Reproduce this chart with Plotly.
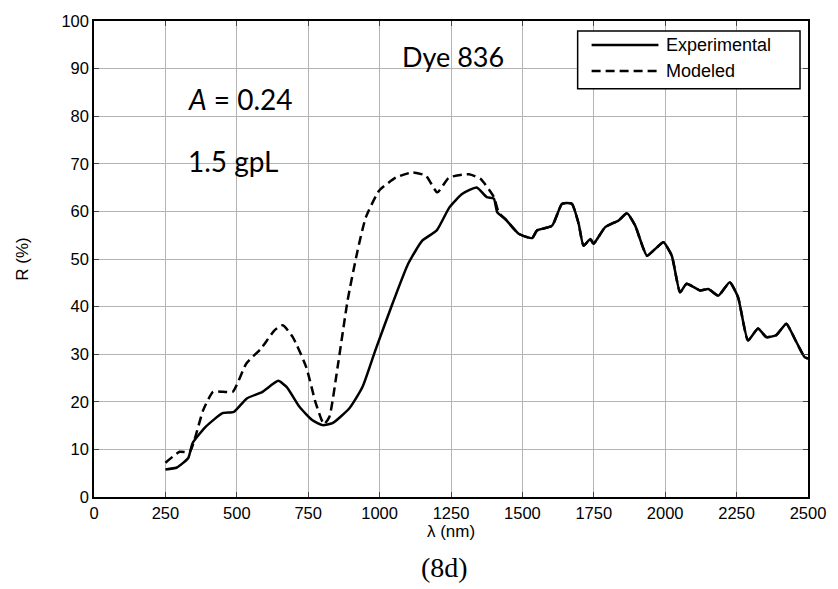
import plotly.graph_objects as go

exp_wl = [250, 290, 330, 345, 390, 450, 490, 535, 590, 645, 675, 720, 765, 800, 835,
          895, 940, 985, 1045, 1100, 1150, 1200, 1245, 1290, 1340, 1375, 1400, 1412,
          1440, 1487, 1534, 1551, 1604, 1639, 1673, 1697, 1714, 1738, 1749, 1790, 1837,
          1866, 1895, 1936, 1965, 1994, 2023, 2052, 2075, 2122, 2151, 2186, 2226, 2255,
          2290, 2325, 2354, 2389, 2424, 2453, 2488, 2500]
exp_r = [5.8, 6.2, 8.2, 11.3, 14.7, 17.6, 17.9, 20.7, 22.1, 24.4, 23.1, 18.9, 16.1, 15.1, 15.5,
         18.7, 23.1, 30.8, 40.6, 49.0, 53.9, 56.0, 60.9, 63.7, 65.0, 63.0, 62.7, 59.8,
         58.4, 55.3, 54.4, 56.0, 57.0, 61.6, 61.6, 57.4, 52.8, 54.2, 53.2, 56.7, 58.1,
         59.6, 57.0, 50.7, 52.1, 53.5, 50.7, 43.0, 44.8, 43.4, 43.7, 42.3, 45.1, 42.0,
         32.9, 35.4, 33.6, 34.0, 36.4, 33.3, 29.4, 29.1]

mod_wl = [250, 300, 335, 382, 417, 452, 486, 533, 585, 632, 661, 696, 743, 777, 805, 824,
          853, 888, 923, 952, 999, 1057, 1115, 1162, 1202, 1243, 1313, 1354, 1400, 1417,
          1440, 1487, 1534, 1551, 1604, 1639, 1673, 1697, 1714, 1738, 1749, 1790, 1837,
          1866, 1895, 1936, 1965, 1994, 2023, 2052, 2075, 2122, 2151, 2186, 2226, 2255,
          2290, 2325, 2354, 2389, 2424, 2453, 2488, 2500]
mod_r = [7.2, 9.5, 9.5, 18.2, 22.1, 22.1, 22.1, 28.0, 31.2, 35.0, 36.1, 33.6, 27.3, 19.6, 15.3, 16.8,
         27.3, 41.3, 51.8, 58.8, 64.4, 67.1, 68.2, 67.5, 64.0, 67.1, 67.8, 66.8, 63.0, 59.8,
         58.4, 55.3, 54.4, 56.0, 57.0, 61.6, 61.6, 57.4, 52.8, 54.2, 53.2, 56.7, 58.1,
         59.6, 57.0, 50.7, 52.1, 53.5, 50.7, 43.0, 44.8, 43.4, 43.7, 42.3, 45.1, 42.0,
         32.9, 35.4, 33.6, 34.0, 36.4, 33.3, 29.4, 29.1]

series_names = ["Experimental", "Modeled"]
x_ticks = [0, 250, 500, 750, 1000, 1250, 1500, 1750, 2000, 2250, 2500]
y_ticks = [0, 10, 20, 30, 40, 50, 60, 70, 80, 90, 100]

W, H = 838, 589
L, R, T, B = 94, 28, 20, 92
pw, ph = W - L - R, H - T - B


def px(x):
    return (x - L) / pw


def py(y):
    return 1 - (y - T) / ph


DASH = "9px,5px"

fig = go.Figure()
fig.add_trace(go.Scatter(x=mod_wl, y=mod_r, mode="lines", name=series_names[1],
                         line=dict(color="black", width=2.5, dash=DASH, shape="spline", smoothing=0.5),
                         showlegend=False))
fig.add_trace(go.Scatter(x=exp_wl, y=exp_r, mode="lines", name=series_names[0],
                         line=dict(color="black", width=2.5, shape="spline", smoothing=0.5),
                         showlegend=False))

axis_font = dict(family="Liberation Sans, Arial, sans-serif", size=16.5, color="black")
title_font = dict(family="Liberation Sans, Arial, sans-serif", size=17, color="black")
anno_font = "Lato, Open Sans, sans-serif"

shapes = [
    # legend box
    dict(type="rect", xref="paper", yref="paper", x0=px(579), x1=px(802), y0=py(88), y1=py(30),
         line=dict(color="black", width=1.5), fillcolor="white", layer="above"),
    dict(type="line", xref="paper", yref="paper", x0=px(593), x1=px(660), y0=py(44), y1=py(44),
         line=dict(color="black", width=2.5), layer="above"),
    dict(type="line", xref="paper", yref="paper", x0=px(593), x1=px(660), y0=py(70), y1=py(70),
         line=dict(color="black", width=2.5, dash=DASH), layer="above"),
]

annotations = [
    dict(text=series_names[0], x=px(666), y=py(44), xanchor="left", yanchor="middle",
         font=dict(family="Liberation Sans, Arial, sans-serif", size=18, color="black")),
    dict(text=series_names[1], x=px(666), y=py(70), xanchor="left", yanchor="middle",
         font=dict(family="Liberation Sans, Arial, sans-serif", size=18, color="black")),
    dict(text="Dye 836", x=px(454), y=py(56), xanchor="center", yanchor="middle",
         font=dict(family=anno_font, size=27, color="black")),
    dict(text="<i>A</i> = 0.24", x=px(186), y=py(98), xanchor="left", yanchor="middle",
         font=dict(family=anno_font, size=28, color="black")),
    dict(text="1.5 gpL", x=px(186), y=py(160), xanchor="left", yanchor="middle",
         font=dict(family=anno_font, size=28, color="black")),
    dict(text="(8d)", x=px(445), y=py(568), xanchor="center", yanchor="middle",
         font=dict(family="Liberation Serif, Times New Roman, serif", size=28, color="black")),
]
for a in annotations:
    a.update(xref="paper", yref="paper", showarrow=False)

fig.update_layout(
    width=W, height=H,
    margin=dict(l=L, r=R, t=T, b=B),
    paper_bgcolor="white", plot_bgcolor="white",
    font=axis_font,
    showlegend=False,
    shapes=shapes,
    annotations=annotations,
    xaxis=dict(range=[0, 2500], tickvals=x_ticks, ticks="inside", ticklen=5,
               showgrid=True, gridcolor="#b4b4b4", gridwidth=1,
               showline=True, linecolor="black", linewidth=1.5, mirror="ticks",
               zeroline=False, tickfont=axis_font,
               title=dict(text="λ (nm)", font=title_font, standoff=4)),
    yaxis=dict(range=[0, 100], tickvals=y_ticks, ticks="inside", ticklen=5,
               showgrid=True, gridcolor="#b4b4b4", gridwidth=1,
               showline=True, linecolor="black", linewidth=1.5, mirror="ticks",
               zeroline=False, tickfont=axis_font,
               title=dict(text="R (%)", font=title_font, standoff=28)),
)

fig.write_html("out.html")
